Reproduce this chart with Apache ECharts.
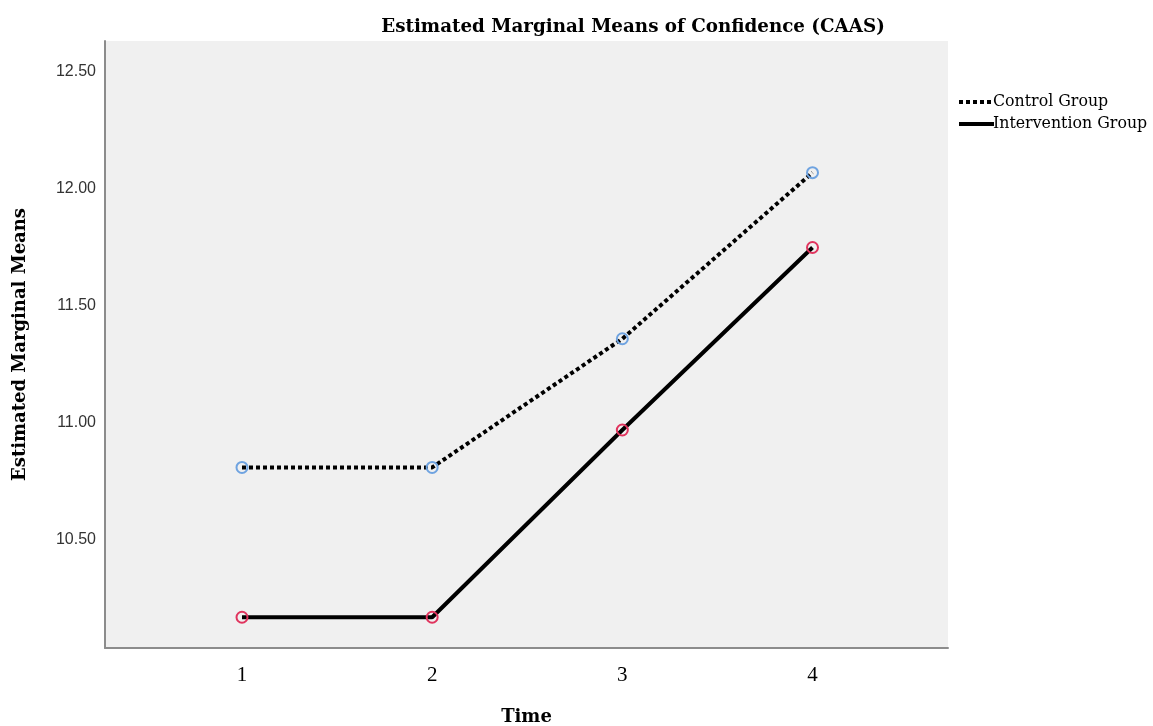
<!DOCTYPE html>
<html>
<head>
<meta charset="utf-8">
<script src="https://cdn.jsdelivr.net/npm/echarts@6/dist/echarts.min.js"></script>
<style>
  html, body { margin: 0; padding: 0; background: #fff; }
  #chart { width: 1153px; height: 726px; }
</style>
</head>
<body>
<div id="chart"></div>
<script>
// Time points and estimated marginal means per group
const timePoints = [1, 2, 3, 4];
const controlMeans = [10.81, 10.81, 11.36, 12.07];
const interventionMeans = [10.17, 10.17, 10.97, 11.75];
const yTickValues = [10.5, 11.0, 11.5, 12.0, 12.5];
const seriesNames = ['Control Group', 'Intervention Group'];

const serif = '"DejaVu Serif", Georgia, serif';
const tickSerif = '"Liberation Serif", "Times New Roman", serif';
const sans = '"Liberation Sans", Arial, sans-serif';

const toPairs = (xs, ys) => xs.map((x, i) => [x, ys[i]]);

const chart = echarts.init(document.getElementById('chart'), null, { renderer: 'canvas' });

chart.setOption({
  animation: false,
  backgroundColor: '#ffffff',
  title: {
    text: 'Estimated Marginal Means of Confidence (CAAS)',
    left: 628,
    top: 13,
    textAlign: 'center',
    textStyle: { fontFamily: serif, fontWeight: 'bold', fontSize: 18.3, color: '#000' }
  },
  legend: {
    orient: 'vertical',
    left: 952,
    top: 89,
    itemWidth: 35,
    itemHeight: 12,
    itemGap: 6,
    data: seriesNames,
    itemStyle: { opacity: 0 },
    lineStyle: { width: 4 },
    textStyle: { fontFamily: serif, fontSize: 15.8, color: '#000', padding: [0, 0, 0, -6] }
  },
  grid: {
    left: 105,
    right: 205,
    top: 41,
    bottom: 78,
    outerBoundsMode: 'none',
    show: true,
    backgroundColor: '#f0f0f0',
    borderWidth: 0
  },
  xAxis: {
    type: 'value',
    min: 0.2796,
    max: 4.7125,
    name: 'Time',
    nameLocation: 'middle',
    nameGap: 60,
    nameTextStyle: { fontFamily: serif, fontWeight: 'bold', fontSize: 18, color: '#000' },
    axisLine: { show: true, lineStyle: { color: '#8c8c8c', width: 2 } },
    axisTick: { show: false },
    splitLine: { show: false },
    axisLabel: {
      customValues: timePoints,
      fontFamily: tickSerif,
      fontSize: 21,
      color: '#000',
      margin: 17
    }
  },
  yAxis: {
    type: 'value',
    min: 10.0385,
    max: 12.6325,
    name: 'Estimated Marginal Means',
    nameLocation: 'middle',
    nameGap: 76,
    nameTextStyle: { fontFamily: serif, fontWeight: 'bold', fontSize: 18, color: '#000' },
    axisLine: { show: true, lineStyle: { color: '#8c8c8c', width: 2 } },
    axisTick: { show: false },
    splitLine: { show: false },
    axisLabel: {
      customValues: yTickValues,
      formatter: v => v.toFixed(2),
      fontFamily: sans,
      fontSize: 16,
      color: '#333',
      margin: 9
    }
  },
  series: [
    {
      name: seriesNames[0],
      type: 'line',
      data: toPairs(timePoints, controlMeans),
      symbol: 'circle',
      symbolSize: 11,
      showAllSymbol: true,
      lineStyle: { color: '#000', width: 4, type: [4, 3], cap: 'butt' },
      itemStyle: { color: 'rgba(0,0,0,0)', borderColor: '#6fa3e0', borderWidth: 2 },
      z: 3
    },
    {
      name: seriesNames[1],
      type: 'line',
      data: toPairs(timePoints, interventionMeans),
      symbol: 'circle',
      symbolSize: 11,
      showAllSymbol: true,
      lineStyle: { color: '#000', width: 4 },
      itemStyle: { color: 'rgba(0,0,0,0)', borderColor: '#e0345e', borderWidth: 2 },
      z: 3
    }
  ]
});
</script>
</body>
</html>
